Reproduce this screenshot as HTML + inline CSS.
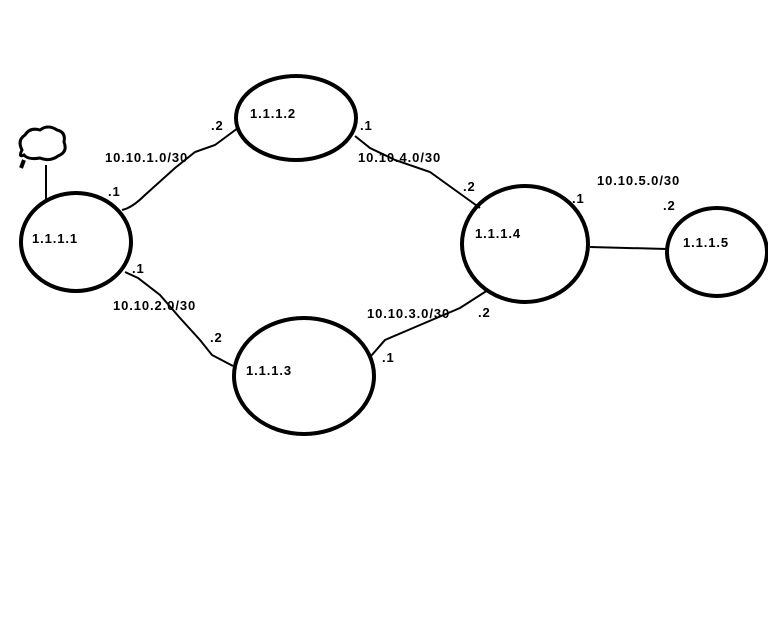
<!DOCTYPE html>
<html><head><style>
body{margin:0;background:#fff;}
svg text{font-family:"Liberation Sans",sans-serif;font-size:13px;font-weight:bold;fill:#000;letter-spacing:0.9px;}
</style></head><body>
<svg width="768" height="614" xmlns="http://www.w3.org/2000/svg">
<rect width="768" height="614" fill="#fff"/>
<g fill="none" stroke="#000" stroke-width="4">
<ellipse cx="76" cy="242" rx="55" ry="49"/>
<ellipse cx="296" cy="118" rx="60" ry="42"/>
<ellipse cx="304" cy="376" rx="70" ry="58"/>
<ellipse cx="525" cy="244" rx="63" ry="58"/>
<ellipse cx="717" cy="252" rx="50" ry="44"/>
</g>
<g fill="none" stroke="#000" stroke-width="2">
<path d="M122,210 Q132,208 145,195 L175,168 L195,152 L215,145 L238,128"/>
<path d="M125,272 L138,278 L160,295 L180,318 L200,340 L212,355 L233,366"/>
<path d="M355,136 L370,148 L395,160 L430,172 L455,190 L480,208"/>
<path d="M371,356 L385,340 L420,325 L460,308 L488,290"/>
<path d="M590,247 L667,249"/>
<path d="M46,165 L46,200"/>
<path d="M22,150 Q17,140 25,135 Q30,127 40,130 Q48,124 57,130 Q66,132 64,142 Q68,152 58,156 Q50,162 40,158 Q28,160 24,155 Q18,158 22,150 Z" stroke-width="3"/>
<path d="M24,160 L21,168" stroke-width="4"/>
</g>
<text x="32" y="243">1.1.1.1</text>
<text x="250" y="118">1.1.1.2</text>
<text x="246" y="375">1.1.1.3</text>
<text x="475" y="238">1.1.1.4</text>
<text x="683" y="247">1.1.1.5</text>
<text x="105" y="162">10.10.1.0/30</text>
<text x="108" y="196">.1</text>
<text x="211" y="130">.2</text>
<text x="132" y="273">.1</text>
<text x="113" y="310">10.10.2.0/30</text>
<text x="210" y="342">.2</text>
<text x="360" y="130">.1</text>
<text x="358" y="162">10.10.4.0/30</text>
<text x="463" y="191">.2</text>
<text x="367" y="318">10.10.3.0/30</text>
<text x="478" y="317">.2</text>
<text x="382" y="362">.1</text>
<text x="597" y="185">10.10.5.0/30</text>
<text x="572" y="203">.1</text>
<text x="663" y="210">.2</text>
</svg>
</body></html>
